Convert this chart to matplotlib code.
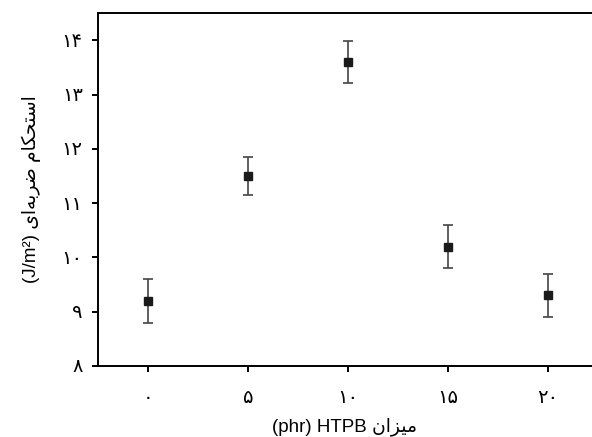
import matplotlib
matplotlib.use("Agg")
import matplotlib.pyplot as plt

plt.rcParams['font.family'] = ['Liberation Sans', 'DejaVu Sans']

# --- Daten ---
htpb = [0, 5, 10, 15, 20]
impact = [9.2, 11.5, 13.6, 10.2, 9.3]
impact_err = [0.4, 0.35, 0.38, 0.4, 0.4]

x_ticks = [0, 5, 10, 15, 20]
x_ticklabels = ['۰', '۵', '۱۰', '۱۵', '۲۰']
y_ticks = [8, 9, 10, 11, 12, 13, 14]
y_ticklabels = ['۸', '۹', '۱۰', '۱۱', '۱۲', '۱۳', '۱۴']

# Persischer Text, von Hand in Praesentationsformen (visuelle Reihenfolge)
mizan = '\uFEE5\uFE8D\uFEB0\uFEF4\uFEE3'
zarbei = '\uFEEF\uFE8D\uFEEA\uFE91\uFEAE\uFEBF'
estehkam = '\uFEE1\uFE8E\uFB91\uFEA4\uFE98\uFEB3\uFE8D'
xlabel = '(phr) HTPB ' + mizan
ylabel = '(J/m²) ' + zarbei + ' ' + estehkam

# --- Plot ---
fig = plt.figure(figsize=(5.92, 4.37), dpi=100)
ax = fig.add_axes([0.1655, 0.1625, 0.8345, 0.8075])

ax.errorbar(htpb, impact, yerr=impact_err, fmt='s', color='#1a1a1a',
            markersize=5.5, ecolor='#444444', elinewidth=1.2,
            capsize=3.5, capthick=1.2)

ax.set_xlim(-2.5, 22.2)
ax.set_ylim(8, 14.5)
ax.set_xticks(x_ticks)
ax.set_xticklabels(x_ticklabels)
ax.set_yticks(y_ticks)
ax.set_yticklabels(y_ticklabels)

ax.spines['right'].set_visible(False)
for s in ['left', 'bottom', 'top']:
    ax.spines[s].set_linewidth(1.4)
ax.tick_params(axis='both', direction='out', length=4, width=1.4,
               labelsize=14)
ax.tick_params(axis='x', pad=13)
ax.tick_params(axis='y', pad=7)

ax.set_xlabel(xlabel, fontsize=13.5, labelpad=8)
ax.set_ylabel(ylabel, fontsize=13.5, labelpad=15)

fig.savefig('out.png', dpi=100)
